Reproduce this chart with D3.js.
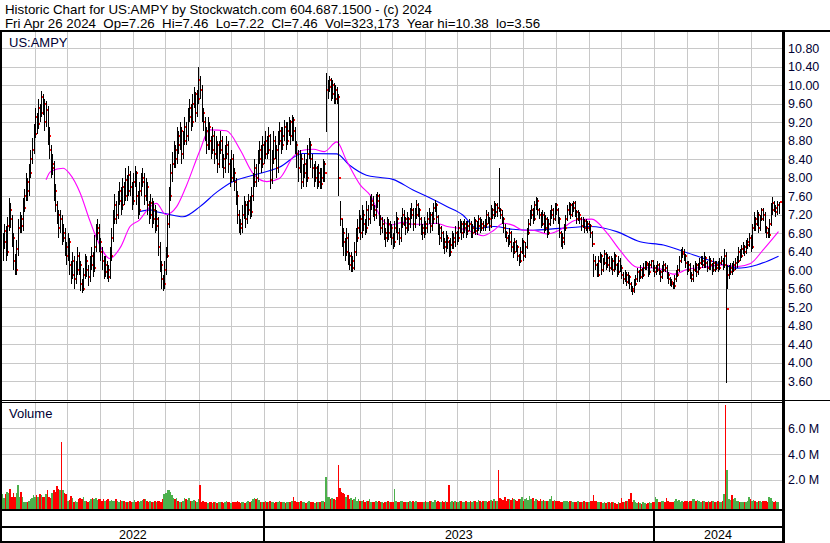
<!DOCTYPE html>
<html>
<head>
<meta charset="utf-8">
<script src="https://cdn.jsdelivr.net/npm/d3@7"></script>
<style>
    body {margin: 0; background: #fff;}
    svg {display: block; font-family: "Liberation Sans", Arial, sans-serif;}
</style>
</head>
<body>
<svg id="chart"></svg>
<script>
const TITLE = 'Historic Chart for US:AMPY by Stockwatch.com 604.687.1500 - (c) 2024';
const SUBTITLE = 'Fri Apr 26 2024  Op=7.26  Hi=7.46  Lo=7.22  Cl=7.46  Vol=323,173  Year hi=10.38  lo=3.56';
const SYMBOL = 'US:AMPY';

// daily closes, Apr/May 2022 .. Apr 26 2024 (one row = 10 trading days)
const CLOSE = [
    6.60, 6.85, 6.40, 6.95, 7.30, 7.10, 6.70, 6.20, 6.00, 6.45,
    6.90, 7.10, 6.95, 7.35, 7.60, 7.90, 7.70, 8.10, 8.40, 8.60,
    8.95, 9.30, 9.15, 9.50, 9.40, 9.75, 9.60, 9.20, 9.45, 8.90,
    8.60, 8.20, 8.30, 7.70, 7.40, 7.20, 6.90, 7.10, 6.70, 6.80,
    6.50, 6.30, 6.60, 6.10, 5.90, 6.20, 5.80, 6.00, 6.30, 6.10,
    5.70, 5.60, 5.90, 6.20, 6.00, 5.85, 6.10, 6.30, 6.05, 6.50,
    6.80, 6.90, 6.60, 6.40, 6.20, 5.95, 6.10, 6.00, 5.85, 6.30,
    6.70, 7.10, 7.40, 7.20, 7.50, 7.70, 7.40, 7.80, 7.60, 7.95,
    7.70, 8.05, 7.80, 7.50, 7.90, 8.10, 7.60, 7.30, 7.70, 7.90,
    8.00, 7.60, 7.80, 7.40, 7.20, 7.45, 7.10, 7.30, 6.95, 7.10,
    6.50, 6.10, 5.80, 5.70, 6.00, 6.30, 7.00, 7.60, 8.10, 8.30,
    8.60, 8.40, 8.90, 8.70, 9.00, 8.50, 8.80, 9.10, 8.90, 9.30,
    9.50, 9.20, 9.60, 9.80, 9.40, 9.70, 10.10, 9.90, 9.40, 9.20,
    9.00, 8.70, 9.10, 8.80, 8.60, 8.90, 8.50, 8.70, 8.30, 8.60,
    8.80, 8.40, 8.20, 8.50, 8.70, 8.30, 8.00, 8.40, 8.10, 7.90,
    7.60, 7.20, 7.00, 6.90, 7.20, 7.40, 7.10, 7.30, 7.50, 7.25,
    7.60, 7.90, 8.20, 8.00, 8.40, 8.60, 8.30, 8.70, 8.50, 8.80,
    8.60, 8.90, 7.95, 8.40, 8.80, 8.60, 8.20, 8.80, 9.00, 8.70,
    8.90, 9.10, 8.80, 9.00, 9.20, 8.90, 9.25, 9.00, 8.70, 8.50,
    8.20, 8.40, 7.90, 8.10, 8.30, 8.00, 8.50, 8.70, 8.40, 8.20,
    8.00, 8.20, 7.90, 8.10, 7.85, 8.00, 8.30, 8.10, 9.90, 9.95,
    10.10, 9.80, 10.00, 9.70, 9.90, 9.75, 8.00, 7.10, 6.80, 6.60,
    6.40, 6.70, 6.30, 6.10, 6.20, 6.05, 6.40, 6.70, 6.90, 7.10,
    6.80, 7.20, 7.00, 6.90, 7.30, 7.10, 7.40, 7.50, 7.30, 7.20,
    7.50, 7.60, 7.10, 6.90, 7.00, 6.80, 6.70, 7.00, 6.80, 6.90,
    6.70, 6.60, 6.90, 7.10, 6.80, 6.70, 7.00, 7.20, 7.10, 6.90,
    7.10, 7.00, 7.20, 7.30, 7.00, 7.20, 7.40, 7.30, 7.10, 6.90,
    6.80, 7.00, 6.90, 7.10, 7.20, 6.95, 7.10, 7.35, 7.40, 7.15,
    6.90, 6.70, 6.80, 6.60, 6.50, 6.70, 6.60, 6.40, 6.55, 6.70,
    6.60, 6.80, 6.70, 6.90, 7.00, 6.80, 6.90, 7.00, 6.85, 6.95,
    7.00, 6.80, 6.90, 7.05, 6.85, 6.95, 7.10, 6.90, 7.00, 6.95,
    7.00, 7.20, 7.10, 6.95, 7.30, 7.20, 7.40, 7.25, 7.35, 7.30,
    7.20, 7.10, 6.90, 6.80, 6.70, 6.60, 6.80, 6.50, 6.40, 6.60,
    6.50, 6.30, 6.20, 6.40, 6.60, 6.30, 6.50, 6.80, 7.00, 7.20,
    7.30, 7.10, 7.40, 7.50, 7.30, 7.20, 7.00, 7.20, 6.90, 7.10,
    6.80, 7.00, 7.20, 7.30, 7.10, 7.40, 7.30, 7.10, 6.80, 6.70,
    6.60, 6.90, 7.10, 7.30, 7.40, 7.20, 7.35, 7.45, 7.25, 7.10,
    7.20, 7.10, 6.95, 7.05, 6.90, 7.00, 6.90, 6.95, 6.80, 6.56,
    6.20, 6.10, 5.90, 6.20, 6.30, 6.00, 6.15, 6.35, 6.10, 6.25,
    6.05, 6.20, 6.00, 6.30, 6.10, 5.95, 6.20, 6.05, 5.90, 5.80,
    5.90, 5.75, 5.85, 5.70, 5.60, 5.55, 5.70, 5.80, 5.95, 5.85,
    6.00, 5.90, 6.05, 6.15, 6.10, 5.95, 6.10, 6.20, 6.05, 5.95,
    6.00, 6.10, 5.95, 5.85, 6.00, 6.10, 6.05, 5.90, 5.80, 5.75,
    5.70, 5.65, 5.80, 5.90, 6.00, 6.20, 6.35, 6.40, 6.30, 6.15,
    6.00, 6.10, 5.90, 5.80, 6.00, 6.10, 5.95, 6.05, 6.15, 6.20,
    6.10, 6.25, 6.15, 6.05, 6.20, 6.10, 6.00, 6.15, 6.05, 6.10,
    6.05, 6.15, 6.20, 6.10, 6.30, 5.15, 5.90, 5.95, 6.05, 6.00,
    6.10, 6.15, 6.20, 6.40, 6.30, 6.45, 6.50, 6.40, 6.55, 6.60,
    6.70, 6.50, 6.90, 7.10, 7.00, 7.20, 6.90, 7.10, 7.30, 7.20,
    6.90, 6.80, 6.75, 7.00, 7.30, 7.45, 7.35, 7.25, 7.40, 7.46
];

const HIGH = [
    6.80, 7.00, 6.95, 7.15, 7.55, 7.45, 7.20, 6.80, 6.35, 6.65,
    7.10, 7.25, 7.20, 7.55, 7.75, 8.10, 8.00, 8.30, 8.60, 8.85,
    9.15, 9.50, 9.40, 9.70, 9.60, 9.87, 9.80, 9.70, 9.65, 9.55,
    9.10, 8.70, 8.50, 8.35, 7.85, 7.50, 7.30, 7.30, 7.20, 7.00,
    6.90, 6.60, 6.80, 6.70, 6.20, 6.40, 6.30, 6.20, 6.50, 6.40,
    6.20, 5.80, 6.05, 6.35, 6.30, 6.10, 6.30, 6.50, 6.40, 6.75,
    7.00, 7.10, 7.00, 6.70, 6.50, 6.30, 6.30, 6.20, 6.10, 6.50,
    6.90, 7.30, 7.65, 7.50, 7.70, 7.90, 7.80, 8.00, 7.90, 8.20,
    8.05, 8.25, 8.15, 7.90, 8.10, 8.25, 8.15, 7.70, 7.90, 8.10,
    8.20, 8.10, 8.00, 7.90, 7.50, 7.65, 7.55, 7.50, 7.40, 7.30,
    7.15, 6.60, 6.20, 5.90, 6.20, 6.50, 7.20, 7.80, 8.30, 8.55,
    8.80, 8.70, 9.10, 9.00, 9.20, 9.10, 9.00, 9.30, 9.20, 9.50,
    9.70, 9.60, 9.80, 9.95, 9.85, 9.90, 10.38, 10.20, 10.00, 9.50,
    9.30, 9.10, 9.30, 9.20, 8.90, 9.10, 9.00, 8.90, 8.80, 8.80,
    9.00, 8.90, 8.50, 8.70, 8.90, 8.80, 8.40, 8.60, 8.50, 8.20,
    8.00, 7.70, 7.30, 7.10, 7.40, 7.60, 7.50, 7.50, 7.65, 7.60,
    7.80, 8.10, 8.40, 8.30, 8.60, 8.80, 8.70, 8.90, 8.80, 9.00,
    8.90, 9.10, 8.95, 8.60, 9.00, 8.90, 8.70, 9.00, 9.20, 9.10,
    9.10, 9.25, 9.20, 9.20, 9.30, 9.25, 9.35, 9.30, 9.10, 8.80,
    8.60, 8.60, 8.50, 8.30, 8.50, 8.40, 8.70, 8.85, 8.80, 8.50,
    8.30, 8.35, 8.25, 8.30, 8.20, 8.20, 8.40, 8.35, 10.26, 10.10,
    10.20, 10.15, 10.10, 10.05, 10.00, 9.95, 9.80, 7.50, 7.10, 6.90,
    6.70, 6.90, 6.80, 6.40, 6.40, 6.30, 6.60, 6.90, 7.10, 7.30,
    7.20, 7.40, 7.30, 7.10, 7.50, 7.40, 7.60, 7.65, 7.60, 7.40,
    7.65, 7.69, 7.65, 7.20, 7.15, 7.10, 6.90, 7.15, 7.10, 7.05,
    7.00, 6.80, 7.05, 7.25, 7.15, 6.90, 7.15, 7.35, 7.30, 7.15,
    7.25, 7.15, 7.35, 7.45, 7.35, 7.35, 7.51, 7.45, 7.35, 7.15,
    7.00, 7.15, 7.05, 7.25, 7.35, 7.25, 7.25, 7.45, 7.51, 7.45,
    7.20, 7.00, 6.95, 6.85, 6.70, 6.85, 6.75, 6.65, 6.70, 6.85,
    6.80, 6.95, 6.85, 7.05, 7.10, 7.05, 7.05, 7.10, 7.05, 7.05,
    7.10, 7.05, 7.00, 7.15, 7.10, 7.05, 7.20, 7.15, 7.10, 7.05,
    7.10, 7.30, 7.25, 7.15, 7.40, 7.35, 7.50, 7.45, 7.45, 8.20,
    7.35, 7.30, 7.15, 7.00, 6.85, 6.75, 6.90, 6.85, 6.60, 6.70,
    6.65, 6.55, 6.35, 6.50, 6.70, 6.65, 6.60, 6.90, 7.10, 7.30,
    7.40, 7.35, 7.50, 7.58, 7.55, 7.35, 7.25, 7.30, 7.25, 7.20,
    7.15, 7.10, 7.30, 7.40, 7.35, 7.45, 7.45, 7.35, 7.15, 6.85,
    6.80, 7.00, 7.20, 7.40, 7.47, 7.45, 7.45, 7.50, 7.50, 7.30,
    7.30, 7.25, 7.15, 7.15, 7.10, 7.10, 7.05, 7.05, 7.00, 6.85,
    6.35, 6.30, 6.15, 6.30, 6.40, 6.35, 6.25, 6.43, 6.40, 6.35,
    6.30, 6.30, 6.25, 6.40, 6.35, 6.15, 6.30, 6.25, 6.10, 5.95,
    6.00, 5.95, 5.95, 5.90, 5.75, 5.65, 5.80, 5.90, 6.05, 6.00,
    6.10, 6.05, 6.15, 6.20, 6.20, 6.15, 6.20, 6.22, 6.22, 6.10,
    6.10, 6.20, 6.15, 6.00, 6.10, 6.20, 6.15, 6.10, 5.95, 5.85,
    5.80, 5.75, 5.90, 6.00, 6.10, 6.30, 6.45, 6.50, 6.45, 6.35,
    6.20, 6.20, 6.15, 5.95, 6.10, 6.20, 6.15, 6.15, 6.25, 6.30,
    6.30, 6.40, 6.30, 6.20, 6.30, 6.25, 6.15, 6.25, 6.20, 6.20,
    6.20, 6.25, 6.30, 6.25, 6.45, 6.40, 6.10, 6.10, 6.15, 6.15,
    6.20, 6.25, 6.30, 6.50, 6.45, 6.55, 6.60, 6.55, 6.65, 6.70,
    6.80, 6.75, 7.00, 7.25, 7.15, 7.30, 7.25, 7.20, 7.35, 7.35,
    7.25, 6.95, 6.90, 7.10, 7.45, 7.58, 7.50, 7.40, 7.50, 7.46
];

const LOW = [
    6.20, 6.45, 6.20, 6.30, 6.85, 6.90, 6.50, 6.00, 5.90, 5.90,
    6.30, 6.80, 6.80, 6.85, 7.25, 7.50, 7.50, 7.60, 8.00, 8.30,
    8.50, 8.85, 8.95, 9.05, 9.20, 9.30, 9.35, 9.00, 9.10, 8.70,
    8.40, 8.00, 8.05, 7.50, 7.25, 7.00, 6.70, 6.80, 6.55, 6.60,
    6.30, 6.10, 6.20, 5.90, 5.70, 5.80, 5.60, 5.70, 5.90, 5.90,
    5.55, 5.50, 5.55, 5.80, 5.85, 5.65, 5.75, 6.00, 5.85, 5.95,
    6.40, 6.65, 6.40, 6.20, 6.00, 5.80, 5.85, 5.80, 5.75, 5.80,
    6.20, 6.60, 7.00, 7.00, 7.10, 7.40, 7.20, 7.30, 7.40, 7.50,
    7.50, 7.60, 7.60, 7.30, 7.40, 7.80, 7.40, 7.10, 7.20, 7.60,
    7.80, 7.40, 7.50, 7.20, 7.00, 7.10, 6.90, 7.00, 6.80, 6.85,
    6.30, 5.95, 5.60, 5.55, 5.60, 5.90, 6.25, 6.90, 7.50, 7.90,
    8.20, 8.20, 8.30, 8.50, 8.60, 8.30, 8.40, 8.70, 8.70, 8.80,
    9.20, 9.00, 9.10, 9.50, 9.20, 9.30, 9.60, 9.70, 9.20, 9.00,
    8.80, 8.50, 8.60, 8.60, 8.40, 8.50, 8.30, 8.40, 8.10, 8.20,
    8.50, 8.20, 8.00, 8.10, 8.40, 8.10, 7.80, 7.90, 7.90, 7.70,
    7.40, 7.00, 6.80, 6.75, 6.80, 7.10, 6.90, 7.00, 7.20, 7.10,
    7.15, 7.50, 7.80, 7.80, 7.90, 8.30, 8.10, 8.20, 8.30, 8.40,
    8.40, 8.50, 7.75, 7.85, 8.30, 8.40, 8.00, 8.10, 8.70, 8.50,
    8.60, 8.80, 8.60, 8.70, 8.90, 8.70, 8.80, 8.80, 8.50, 8.20,
    7.90, 8.10, 7.75, 7.80, 8.00, 7.80, 7.90, 8.40, 8.20, 8.00,
    7.80, 7.90, 7.75, 7.80, 7.75, 7.75, 7.90, 7.90, 8.98, 9.70,
    9.85, 9.65, 9.70, 9.60, 9.60, 9.60, 7.60, 6.95, 6.50, 6.30,
    6.20, 6.30, 6.10, 6.00, 5.95, 5.95, 6.00, 6.30, 6.60, 6.80,
    6.65, 6.70, 6.85, 6.75, 6.80, 6.95, 7.00, 7.30, 7.15, 7.05,
    7.10, 7.35, 6.95, 6.75, 6.80, 6.65, 6.50, 6.60, 6.65, 6.70,
    6.55, 6.45, 6.50, 6.80, 6.65, 6.55, 6.60, 6.90, 6.95, 6.75,
    6.80, 6.85, 6.90, 7.10, 6.85, 6.90, 7.10, 7.15, 6.95, 6.75,
    6.65, 6.70, 6.75, 6.80, 7.00, 6.80, 6.85, 7.00, 7.25, 7.00,
    6.75, 6.55, 6.60, 6.45, 6.35, 6.40, 6.45, 6.28, 6.30, 6.45,
    6.45, 6.50, 6.55, 6.60, 6.80, 6.65, 6.70, 6.80, 6.70, 6.75,
    6.85, 6.70, 6.70, 6.80, 6.75, 6.75, 6.85, 6.80, 6.85, 6.85,
    6.85, 6.90, 7.00, 6.85, 6.90, 7.10, 7.10, 7.15, 7.15, 7.25,
    7.10, 7.00, 6.80, 6.70, 6.60, 6.50, 6.55, 6.40, 6.25, 6.35,
    6.40, 6.20, 6.08, 6.15, 6.35, 6.20, 6.25, 6.45, 6.75, 6.95,
    7.10, 7.00, 7.05, 7.30, 7.20, 7.10, 6.90, 6.95, 6.80, 6.85,
    6.70, 6.75, 6.95, 7.10, 7.00, 7.05, 7.20, 7.00, 6.70, 6.50,
    6.45, 6.55, 6.85, 7.05, 7.20, 7.10, 7.15, 7.25, 7.15, 7.00,
    7.05, 7.00, 6.85, 6.90, 6.80, 6.85, 6.80, 6.85, 6.70, 6.50,
    5.85, 6.00, 5.85, 5.85, 6.15, 5.90, 5.95, 6.10, 6.00, 6.05,
    5.95, 6.00, 5.90, 5.95, 6.00, 5.85, 5.90, 5.95, 5.80, 5.70,
    5.75, 5.65, 5.70, 5.60, 5.52, 5.46, 5.50, 5.65, 5.75, 5.75,
    5.80, 5.80, 5.85, 6.00, 6.00, 5.85, 5.90, 6.05, 5.95, 5.85,
    5.90, 5.95, 5.90, 5.75, 5.80, 5.95, 5.95, 5.80, 5.70, 5.65,
    5.63, 5.60, 5.60, 5.75, 5.85, 5.95, 6.15, 6.25, 6.20, 6.05,
    5.90, 5.95, 5.80, 5.75, 5.75, 5.95, 5.85, 5.90, 6.00, 6.10,
    6.05, 6.05, 6.05, 5.95, 6.00, 6.00, 5.90, 5.95, 5.95, 6.00,
    5.95, 6.00, 6.10, 6.00, 6.05, 3.56, 5.60, 5.80, 5.90, 5.90,
    5.95, 6.00, 6.05, 6.15, 6.20, 6.25, 6.35, 6.30, 6.35, 6.45,
    6.50, 6.40, 6.45, 6.85, 6.85, 6.95, 6.80, 6.85, 7.05, 7.05,
    6.80, 6.70, 6.70, 6.70, 6.95, 7.20, 7.25, 7.15, 7.20, 7.22
];

// daily volume, thousands of shares
const VOLUME_K = [
    900, 600, 900, 1100, 1000, 1300, 700, 950, 700, 1000,
    1600, 700, 1100, 650, 300, 300, 250, 400, 550, 600,
    850, 700, 800, 700, 900, 850, 700, 650, 900, 1200,
    700, 600, 950, 1250, 1100, 1500, 1300, 1200, 4900, 1200,
    1000, 900, 400, 450, 750, 600, 300, 350, 300, 500,
    600, 550, 700, 400, 350, 300, 400, 550, 600, 500,
    600, 450, 550, 500, 400, 550, 350, 450, 500, 400,
    450, 400, 350, 500, 400, 300, 450, 350, 400, 300,
    300, 250, 350, 300, 250, 450, 300, 400, 250, 350,
    450, 550, 500, 400, 300, 350, 250, 300, 350, 300,
    350, 400, 300, 500, 900, 1000, 1200, 1200, 1100, 800,
    600, 500, 600, 400, 300, 250, 350, 600, 500, 450,
    600, 400, 350, 450, 350, 300, 500, 1600, 300, 350,
    300, 250, 200, 300, 250, 200, 300, 250, 200, 300,
    250, 300, 200, 250, 350, 300, 250, 200, 300, 250,
    300, 350, 250, 200, 300, 250, 200, 300, 350, 250,
    400, 550, 600, 500, 620, 450, 300, 250, 300, 350,
    250, 300, 350, 250, 300, 200, 250, 300, 350, 250,
    300, 250, 200, 300, 250, 300, 350, 700, 400, 300,
    250, 300, 350, 250, 300, 200, 300, 350, 250, 300,
    250, 200, 300, 250, 300, 400, 350, 300, 2260, 700,
    650, 500, 600, 550, 450, 650, 3170, 1400, 1100, 1000,
    900, 700, 800, 500, 600, 450, 550, 700, 400, 500,
    400, 350, 450, 300, 400, 350, 500, 300, 250, 300,
    350, 300, 400, 250, 300, 200, 300, 250, 350, 300,
    250, 300, 1300, 350, 250, 300, 400, 350, 250, 300,
    300, 250, 350, 300, 400, 250, 350, 300, 250, 300,
    250, 300, 350, 300, 250, 400, 350, 300, 450, 300,
    350, 300, 250, 400, 300, 350, 300, 1600, 300, 350,
    300, 350, 250, 300, 400, 350, 300, 250, 350, 300,
    250, 350, 300, 400, 350, 300, 450, 350, 300, 400,
    350, 400, 300, 350, 450, 400, 500, 350, 400, 2780,
    600, 500, 450, 650, 400, 500, 550, 450, 600, 500,
    450, 400, 550, 500, 700, 400, 500, 600, 450, 750,
    500, 600, 400, 550, 450, 400, 500, 350, 450, 400,
    350, 400, 500, 750, 400, 450, 350, 400, 350, 300,
    300, 350, 400, 350, 300, 400, 350, 300, 250, 300,
    350, 300, 250, 300, 350, 300, 250, 300, 350, 400,
    850, 400, 350, 300, 250, 300, 200, 250, 200, 300,
    250, 200, 300, 250, 200, 150, 250, 200, 600, 300,
    250, 350, 400, 500, 1000, 300, 450, 250, 200, 300,
    200, 150, 250, 200, 150, 200, 250, 200, 300, 250,
    700, 500, 300, 250, 350, 400, 300, 600, 350, 250,
    300, 250, 350, 500, 400, 450, 300, 350, 300, 400,
    350, 300, 400, 350, 500, 550, 400, 450, 350, 300,
    350, 400, 300, 250, 350, 300, 400, 350, 300, 250,
    350, 300, 250, 400, 900, 7780, 2780, 500, 450, 800,
    500, 600, 400, 350, 300, 250, 300, 250, 300, 400,
    650, 500, 350, 450, 400, 300, 350, 400, 300, 350,
    400, 350, 300, 650, 600, 400, 300, 350, 300, 323
];

// moving averages: [trading day index, price]
const MA_FAST = [
    [28, 7.95], [31, 8.13], [39, 8.20], [43, 8.09], [50, 7.66], [56, 7.08], [61, 6.65],
    [69, 6.25], [76, 6.50], [82, 6.94], [88, 7.08], [95, 7.37], [99, 7.44], [105, 7.20],
    [112, 7.37], [118, 7.80], [127, 8.59], [133, 9.03], [144, 9.01], [153, 8.59],
    [161, 8.09], [170, 7.91], [178, 7.98], [187, 8.45], [193, 8.59], [200, 8.61],
    [207, 8.56], [215, 8.77], [221, 8.38], [230, 7.84], [237, 7.59], [243, 7.15],
    [249, 6.97], [258, 7.03], [264, 6.99], [273, 6.99], [279, 7.01], [286, 6.94],
    [294, 6.90], [303, 6.81], [309, 6.74], [316, 6.86], [322, 7.01], [328, 6.97],
    [335, 6.86], [341, 6.86], [350, 6.78], [358, 6.86], [369, 7.08], [379, 7.10],
    [388, 6.83], [397, 6.43], [408, 6.06], [421, 6.04], [432, 5.91], [440, 6.01],
    [451, 6.06], [464, 6.11], [472, 6.07], [481, 6.14], [489, 6.43], [499, 6.83]
];
const MA_SLOW = [
    [88, 7.26], [95, 7.30], [99, 7.26], [106, 7.21], [116, 7.15], [127, 7.37],
    [138, 7.69], [148, 7.91], [161, 8.05], [178, 8.22], [193, 8.52], [215, 8.51],
    [223, 8.27], [234, 8.05], [243, 8.00], [251, 7.96], [264, 7.73], [273, 7.59],
    [286, 7.37], [296, 7.19], [305, 6.90], [316, 6.94], [328, 6.88], [341, 6.86],
    [358, 6.90], [378, 6.94], [395, 6.83], [410, 6.61], [425, 6.54], [438, 6.40],
    [451, 6.25], [464, 6.11], [472, 6.04], [485, 6.11], [499, 6.30]
];

const PRICE_TICKS = [10.8, 10.4, 10.0, 9.6, 9.2, 8.8, 8.4, 8.0, 7.6, 7.2, 6.8, 6.4, 6.0, 5.6, 5.2, 4.8, 4.4, 4.0, 3.6];
const VOLUME_TICKS = [2e6, 4e6, 6e6];
const YEARS = [2022, 2023, 2024];
const DATE_FROM = new Date(2022, 4, 2);
const DATE_TO = new Date(2024, 3, 28);

const WIDTH = 830, HEIGHT = 543;
const PLOT = {left: 2, right: 782, top: 32, bottom: 400};
const VOL = {top: 403, bottom: 509};

const svg = d3.select('#chart').attr('width', WIDTH).attr('height', HEIGHT);

const x = d3.scaleLinear().domain([0, CLOSE.length - 1]).range([2.5, 778.5]);
const xTime = d3.scaleTime().domain([DATE_FROM, DATE_TO]).range([3, 780]);
const y = d3.scaleLinear().domain([3.6, 10.8]).range([381, 48]);
const yVol = d3.scaleLinear().domain([0, 6e6]).range([505.7, 428.3]);

// header; the double gaps of line 2 are kept with no-break spaces
svg.append('text').attr('x', 5).attr('y', 14).style('font-size', '13.3px').text(TITLE);
svg.append('text').attr('x', 5).attr('y', 28).style('font-size', '13.3px')
    .text(SUBTITLE.replace(/ {2}/g, '\u00a0\u00a0'));

// grid
const grid = svg.append('g').attr('stroke', '#c8c8c8').attr('shape-rendering', 'crispEdges');
grid.selectAll('.hgrid').data(PRICE_TICKS).enter().append('line')
    .attr('x1', PLOT.left).attr('x2', PLOT.right)
    .attr('y1', d => Math.round(y(d)) + 0.5).attr('y2', d => Math.round(y(d)) + 0.5);
grid.selectAll('.vgrid').data(VOLUME_TICKS).enter().append('line')
    .attr('x1', PLOT.left).attr('x2', PLOT.right)
    .attr('y1', d => Math.round(yVol(d)) + 0.5).attr('y2', d => Math.round(yVol(d)) + 0.5);
const months = d3.timeMonth.range(d3.timeMonth.ceil(DATE_FROM), DATE_TO);
months.forEach(m => {
    const mx = Math.round(xTime(m)) + 0.5;
    grid.append('line').attr('x1', mx).attr('x2', mx).attr('y1', PLOT.top).attr('y2', PLOT.bottom);
    grid.append('line').attr('x1', mx).attr('x2', mx).attr('y1', VOL.top).attr('y2', VOL.bottom);
});

// labels inside panels
svg.append('text').attr('x', 9).attr('y', 47).style('font-size', '13px').attr('fill', '#000033').text(SYMBOL);
svg.append('text').attr('x', 9).attr('y', 418).style('font-size', '13px').attr('fill', '#000033').text('Volume');

// moving averages
const maLine = d3.line().x(d => x(d[0])).y(d => y(d[1])).curve(d3.curveMonotoneX);
svg.append('path').datum(MA_SLOW).attr('d', maLine).attr('fill', 'none').attr('stroke', '#0000ff').attr('stroke-width', 1.1);
svg.append('path').datum(MA_FAST).attr('d', maLine).attr('fill', 'none').attr('stroke', '#ff00ff').attr('stroke-width', 1.1);

// price bars: black high-low line, red close mark
const bars = svg.append('g').attr('shape-rendering', 'crispEdges');
CLOSE.forEach((c, i) => {
    const bx = Math.round(x(i));
    const g = bars.append('g');
    g.append('rect').attr('x', bx).attr('width', 1)
        .attr('y', Math.round(y(HIGH[i]))).attr('height', Math.max(1, Math.round(y(LOW[i])) - Math.round(y(HIGH[i]))))
        .attr('fill', '#000');
    g.append('rect').attr('x', bx + 1).attr('width', 2)
        .attr('y', Math.round(y(c)) - 1).attr('height', 2).attr('fill', '#ff0000');
});

// volume bars
svg.append('g').attr('shape-rendering', 'crispEdges')
    .selectAll('.vbar').data(VOLUME_K).enter().append('rect')
    .attr('x', (d, i) => x(i) - 0.78).attr('width', 1.56)
    .attr('y', d => yVol(d * 1000)).attr('height', d => VOL.bottom - yVol(d * 1000))
    .attr('fill', (d, i) => {
        if (i === 0 || CLOSE[i] > CLOSE[i - 1]) return '#4cb04c';
        if (CLOSE[i] < CLOSE[i - 1]) return '#ff0000';
        return '#a0a0a0';
    });

// axes on the right
const priceAxis = svg.append('g').attr('transform', 'translate(786,0)')
    .call(d3.axisRight(y).tickValues(PRICE_TICKS).tickSize(0).tickPadding(2).tickFormat(d3.format('.2f')));
const volAxis = svg.append('g').attr('transform', 'translate(786,0)')
    .call(d3.axisRight(yVol).tickValues(VOLUME_TICKS).tickSize(0).tickPadding(2).tickFormat(d => (d / 1e6).toFixed(1) + ' M'));
[priceAxis, volAxis].forEach(a => {
    a.select('.domain').remove();
    a.selectAll('text').style('font-size', '12.5px').style('font-family', '"Liberation Sans", Arial, sans-serif').attr('fill', '#000033');
});

// frame
const frame = svg.append('g').attr('fill', '#000').attr('shape-rendering', 'crispEdges');
frame.append('rect').attr('x', 0).attr('y', 30).attr('width', WIDTH).attr('height', 2);
frame.append('rect').attr('x', 0).attr('y', 30).attr('width', 2).attr('height', HEIGHT - 30);
frame.append('rect').attr('x', 782).attr('y', 30).attr('width', 3).attr('height', HEIGHT - 30);
frame.append('rect').attr('x', 0).attr('y', 400).attr('width', WIDTH).attr('height', 1);
frame.append('rect').attr('x', 0).attr('y', 402).attr('width', 782).attr('height', 1);
frame.append('rect').attr('x', 0).attr('y', 509).attr('width', 782).attr('height', 2);
frame.append('rect').attr('x', 0).attr('y', 526).attr('width', 782).attr('height', 2);
frame.append('rect').attr('x', 0).attr('y', 541).attr('width', 782).attr('height', 2);

// year row
const yearEdges = YEARS.map(yr => Math.max(PLOT.left, xTime(new Date(yr, 0, 1))));
YEARS.forEach((yr, k) => {
    const x0 = yearEdges[k];
    const x1 = k + 1 < YEARS.length ? yearEdges[k + 1] : PLOT.right;
    if (k > 0) frame.append('rect').attr('x', Math.round(x0) - 1).attr('y', 509).attr('width', 2).attr('height', 34);
    svg.append('text').attr('x', (x0 + x1) / 2).attr('y', 539).attr('text-anchor', 'middle')
        .style('font-size', '12.5px').text(yr);
});
</script>
</body>
</html>
